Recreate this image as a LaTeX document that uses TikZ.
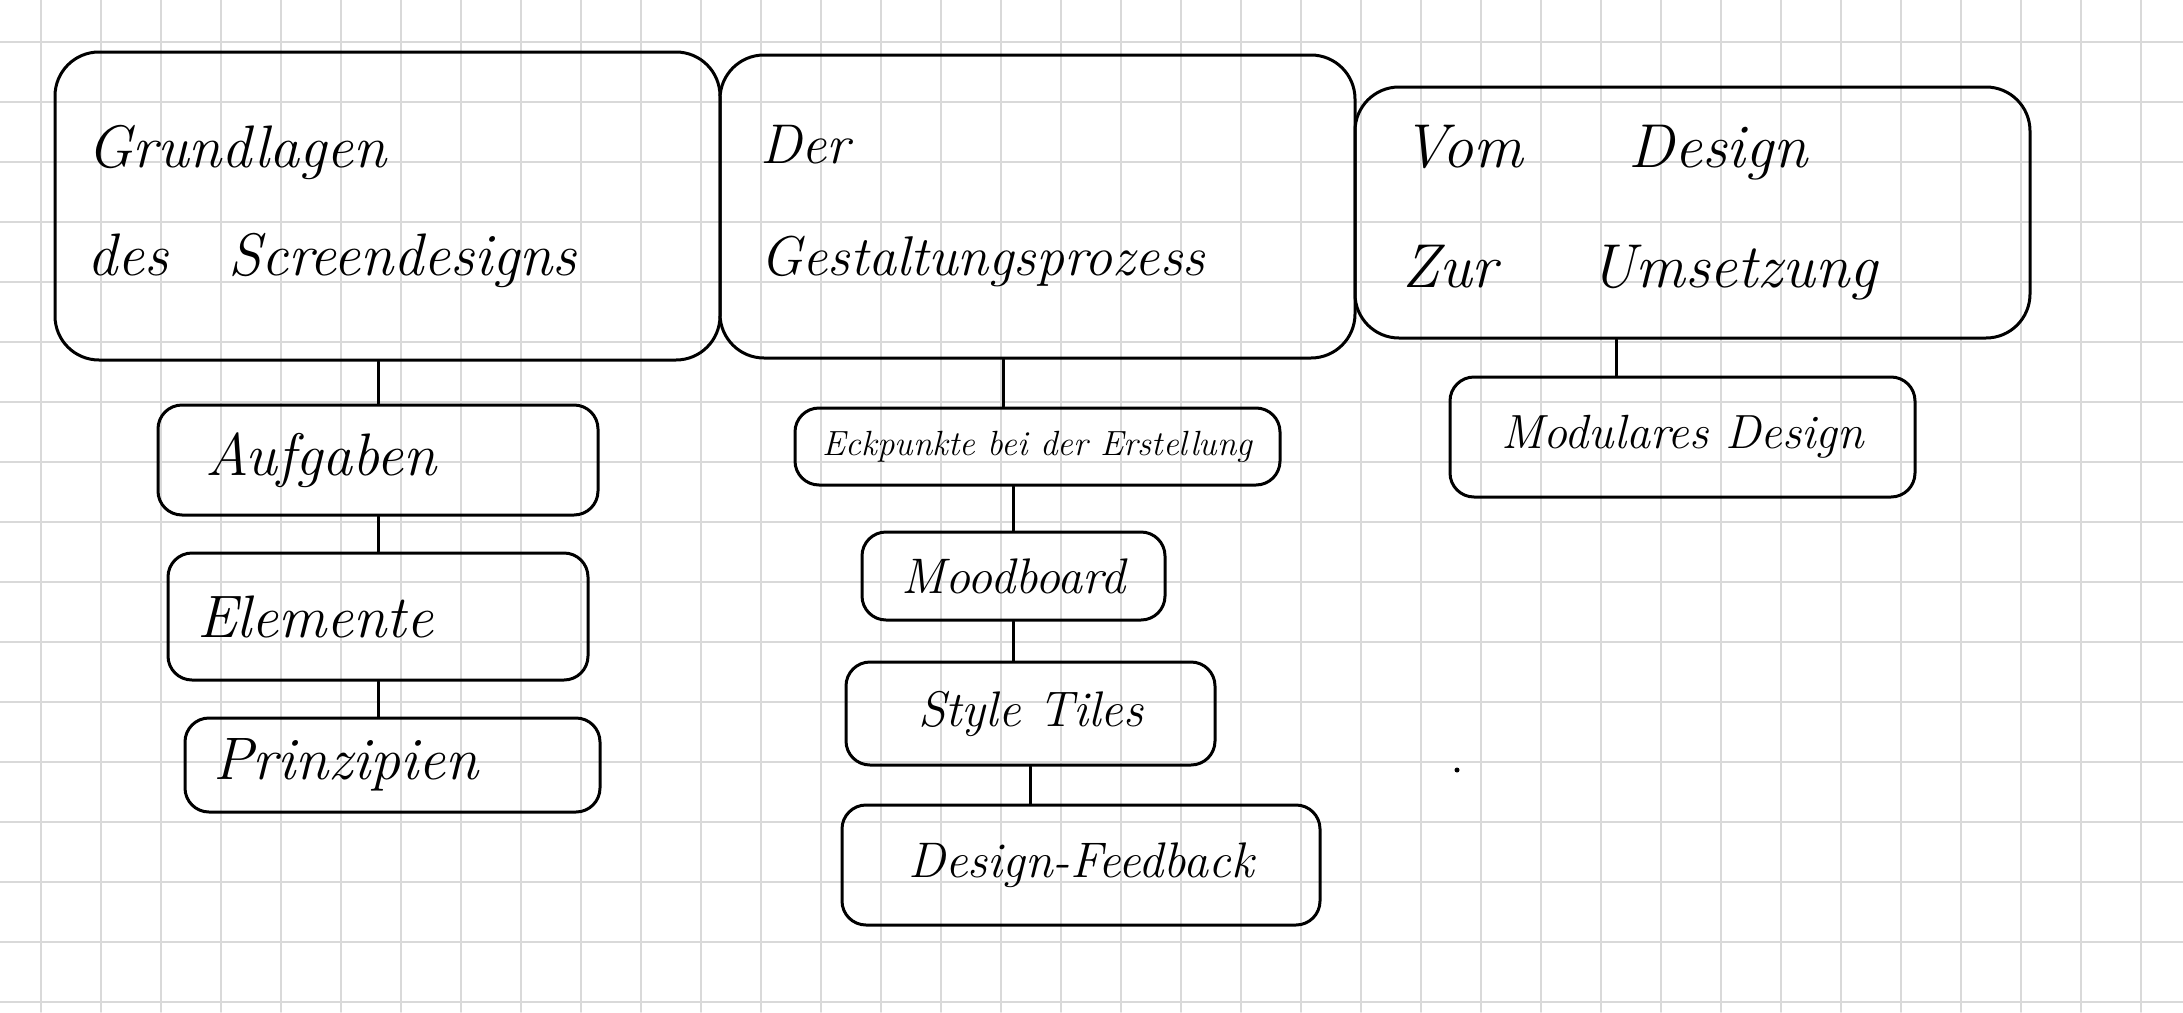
\documentclass[tikz,border=0pt]{standalone}
\usepackage{fontspec}

\begin{document}
\begin{tikzpicture}
		[x=0.5pt,y=-0.5pt,line cap=round,
		%Styles
		grid line/.style={gridcolor,line width=0.9pt},
		topic box/.style={draw,line width=1.5pt,rounded corners=22pt,align=left,font=\fontsize{28}{56}\selectfont\itshape},
		item box/.style={draw,line width=1.5pt,rounded corners=12pt,align=center,font=\fontsize{25}{30}\selectfont\itshape},
		list box/.style={item box,align=left,font=\fontsize{30}{36}\selectfont\itshape},
		link/.style={line width=1.5pt}
		]
		
		%Colors
		\colorlet{gridcolor}{black!15}
		
		%Paper
		\fill[white] (0,0) rectangle (2183,1012);
		\useasboundingbox (0,0) rectangle (2183,1012);
		\foreach \gx in {41,101,...,2141} \draw[grid line] (\gx,0) -- (\gx,1012);
		\foreach \gy in {42,102,...,1002} \draw[grid line] (0,\gy) -- (2183,\gy);
		
		%The graphic
		\node[topic box,font=\fontsize{30}{54}\selectfont\itshape,text width=300.5pt,inner xsep=16pt,minimum height=154pt] (grundlagen) at (387.5,206) {Grundlagen\\des\hspace{1em}Screendesigns};
		\node[topic box,text width=277.5pt,inner xsep=20pt,minimum height=151.5pt] (gestaltung) at (1037.5,206.5) {Der\\Gestaltungsprozess};
		\node[topic box,font=\fontsize{31}{60}\selectfont\itshape,text width=290.5pt,inner xsep=23.5pt,minimum height=125.5pt] (umsetzung) at (1692.5,212.5) {Vom\hspace{1.7em}Design\\Zur\hspace{1.5em}Umsetzung};
		
		\node[list box,text width=173pt,inner xsep=23.5pt,minimum height=55pt] (aufgaben) at (378,460) {Aufgaben};
		\node[list box,text width=181pt,inner xsep=14.5pt,minimum height=63.5pt] (elemente) at (378,616.5) {Elemente};
		\node[list box,text width=179.5pt,inner xsep=14pt,minimum height=47pt] (prinzipien) at (392.5,765) {Prinzipien};
		
		\node[item box,font=\fontsize{17.5}{21}\selectfont\itshape,minimum width=242.5pt,minimum height=38.5pt] (eckpunkte) at (1037.5,446.5) {Eckpunkte bei der Erstellung};
		\node[item box,minimum width=151.5pt,minimum height=44pt] (moodboard) at (1013.5,576) {Moodboard};
		\node[item box,minimum width=184.5pt,minimum height=51.5pt] (styletiles) at (1030.5,713.5) {Style Tiles};
		\node[item box,minimum width=239pt,minimum height=60pt] (feedback) at (1081,865) {Design-Feedback};
		
		\node[item box,font=\fontsize{24}{29}\selectfont\itshape,minimum width=232.5pt,minimum height=60pt] (modular) at (1682.5,437) {Modulares Design};
		
		\draw[link] (aufgaben.north) -- (aufgaben.north |- grundlagen.south);
		\draw[link] (aufgaben.south) -- (elemente.north);
		\draw[link] (elemente.south) -- (elemente.south |- prinzipien.north);
		
		\draw[link] ([xshift=-17pt]eckpunkte.north) -- ([xshift=-17pt]eckpunkte.north |- gestaltung.south);
		\draw[link] (moodboard.north) -- (moodboard.north |- eckpunkte.south);
		\draw[link] (moodboard.south) -- (moodboard.south |- styletiles.north);
		\draw[link] (styletiles.south) -- (styletiles.south |- feedback.north);
		
		\draw[link] ([xshift=-33pt]modular.north) -- ([xshift=-33pt]modular.north |- umsetzung.south);
		
		\fill (1457,770) circle (2.5);
	\end{tikzpicture}
\end{document}
